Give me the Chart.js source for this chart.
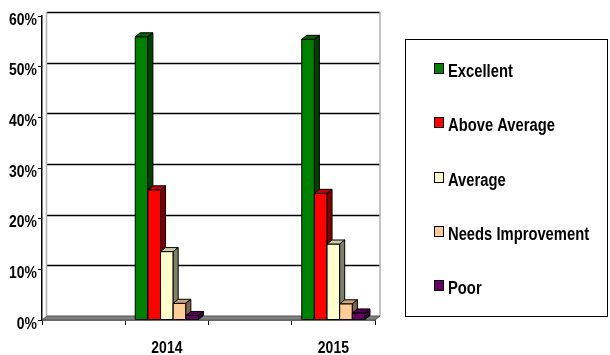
<!DOCTYPE html>
<html>
<head>
<meta charset="utf-8">
<script src="https://cdn.jsdelivr.net/npm/chart.js@4/dist/chart.umd.min.js"></script>
<style>
  body { margin: 0; background: #fff; }
  #wrap { width: 610px; height: 355px; }
</style>
</head>
<body>
<div id="wrap"><canvas id="chart" width="610" height="355"></canvas></div>
<script>
// survey results per year, in percent
var years = ['2014', '2015'];
var seriesNames = ['Excellent', 'Above Average', 'Average', 'Needs Improvement', 'Poor'];
var excellent = [55.9, 55.4];
var aboveAverage = [25.7, 25.0];
var average = [13.5, 15.0];
var needsImprovement = [3.3, 3.2];
var poor = [0.9, 1.4];
var yTicks = [0, 10, 20, 30, 40, 50, 60];

var FONT = "'Liberation Sans', Arial, sans-serif";
var NARROW = 0.82;      // squeeze text like Arial Narrow
var DX = 5, DY = 4;     // depth of the 3d look

// front, top, side colours
var palette = [
    ['#008000', '#006600', '#004000'],
    ['#ff0000', '#cc0000', '#800000'],
    ['#ffffcc', '#cccca3', '#808066'],
    ['#ffcc99', '#cca37a', '#80664d'],
    ['#660066', '#520052', '#330033']
];

// blank slots between the years, like the spreadsheet had
var labels = ['', years[0], '', years[1]];
function spread(v) { return [null, v[0], null, v[1]]; }

var allSeries = [excellent, aboveAverage, average, needsImprovement, poor];
var datasets = allSeries.map(function (s, i) {
    return {
        label: seriesNames[i],
        data: spread(s),
        backgroundColor: palette[i][0],
        borderColor: '#000',
        borderWidth: 1,
        borderSkipped: 'start'
    };
});

function poly(ctx, pts, fill) {
    ctx.beginPath();
    ctx.moveTo(pts[0][0], pts[0][1]);
    for (var i = 1; i < pts.length; i++) ctx.lineTo(pts[i][0], pts[i][1]);
    ctx.closePath();
    ctx.fillStyle = fill;
    ctx.fill();
    ctx.stroke();
}

function narrowText(ctx, text, x, y, align, size) {
    ctx.save();
    ctx.translate(x, y);
    ctx.scale(NARROW, 1);
    ctx.font = 'bold ' + size + 'px ' + FONT;
    ctx.textAlign = align;
    ctx.textBaseline = 'alphabetic';
    ctx.fillStyle = '#000';
    ctx.fillText(text, 0, 0);
    ctx.restore();
}

var box3d = {
    id: 'box3d',
    beforeDatasetsDraw: function (chart) {
        var ctx = chart.ctx, a = chart.chartArea, y = chart.scales.y;
        var base = y.getPixelForValue(0);
        var top = y.getPixelForValue(60);
        ctx.save();
        // back wall gridlines
        ctx.strokeStyle = '#000';
        ctx.lineWidth = 1.5;
        yTicks.forEach(function (t) {
            if (t === 0) return;
            var py = Math.round(y.getPixelForValue(t) - DY) + 0.5;
            ctx.beginPath();
            ctx.moveTo(a.left + DX, py);
            ctx.lineTo(a.right + DX, py);
            ctx.stroke();
        });
        // side edges of the walls
        ctx.strokeStyle = '#b0b0b0';
        ctx.lineWidth = 1.5;
        ctx.beginPath();
        ctx.moveTo(a.left + DX - 0.5, top - DY);
        ctx.lineTo(a.left + DX - 0.5, base - DY);
        ctx.moveTo(a.right + DX, top - DY);
        ctx.lineTo(a.right + DX, base - DY);
        ctx.stroke();
        // floor
        ctx.strokeStyle = '#555';
        ctx.lineWidth = 1;
        poly(ctx, [[a.left, base], [a.right, base], [a.right + DX, base - DY], [a.left + DX, base - DY]], '#808080');

        // bars left to right so each one hides its neighbour's side
        var bars = [];
        chart.data.datasets.forEach(function (ds, di) {
            chart.getDatasetMeta(di).data.forEach(function (el, j) {
                if (ds.data[j] == null) return;
                bars.push({ el: el, di: di });
            });
        });
        bars.sort(function (p, q) { return p.el.x - q.el.x; });
        ctx.strokeStyle = '#000';
        ctx.lineWidth = 1;
        bars.forEach(function (b) {
            var el = b.el, c = palette[b.di];
            var l = el.x - el.width / 2, r = el.x + el.width / 2, t = el.y, bo = el.base;
            poly(ctx, [[l, bo], [r, bo], [r, t], [l, t]], c[0]);
            poly(ctx, [[l, t], [r, t], [r + DX, t - DY], [l + DX, t - DY]], c[1]);
            poly(ctx, [[r, t], [r + DX, t - DY], [r + DX, bo - DY], [r, bo]], c[2]);
        });
        ctx.restore();
        return false;
    },
    afterDraw: function (chart) {
        var ctx = chart.ctx, x = chart.scales.x, y = chart.scales.y;

        // axis labels
        y.ticks.forEach(function (t) {
            narrowText(ctx, t.value + '%', y.right - 5, y.getPixelForValue(t.value) + 8.5, 'right', 17);
        });
        x.getLabels().forEach(function (lab, i) {
            if (lab) narrowText(ctx, lab, x.getPixelForValue(i), x.top + 33, 'center', 17);
        });

        // legend
        ctx.save();
        ctx.strokeStyle = '#000';
        ctx.lineWidth = 1;
        ctx.strokeRect(405.5, 39.5, 202, 277);
        chart.data.datasets.forEach(function (ds, i) {
            var by = 77 + i * 54.25;
            var sy = Math.round(by - 14) + 0.5;
            ctx.fillStyle = ds.backgroundColor;
            ctx.fillRect(434.5, sy, 9, 10);
            ctx.strokeRect(434.5, sy, 9, 10);
            narrowText(ctx, ds.label, 448, by, 'left', 18);
        });
        ctx.restore();
    }
};

var ctx = document.getElementById('chart').getContext('2d');
var chart = new Chart(ctx, {
    type: 'bar',
    data: { labels: labels, datasets: datasets },
    options: {
        responsive: false,
        animation: false,
        layout: { padding: { top: 16, right: 235, left: 0, bottom: 0 } },
        datasets: { bar: { barPercentage: 1, categoryPercentage: 0.76 } },
        plugins: { legend: { display: false }, tooltip: { enabled: false } },
        scales: {
            x: {
                grid: { offset: true, drawOnChartArea: false, tickLength: 5, color: '#000' },
                border: { color: '#000', width: 1.5 },
                ticks: { display: false },
                afterFit: function (s) { s.height = 35; }
            },
            y: {
                min: 0,
                max: 60,
                afterBuildTicks: function (s) { s.ticks = yTicks.map(function (v) { return { value: v }; }); },
                grid: { drawOnChartArea: false, tickLength: 4, color: '#000' },
                border: { color: '#000', width: 1.5 },
                ticks: { display: false },
                afterFit: function (s) { s.width = 42; }
            }
        }
    },
    plugins: [box3d]
});
</script>
</body>
</html>
